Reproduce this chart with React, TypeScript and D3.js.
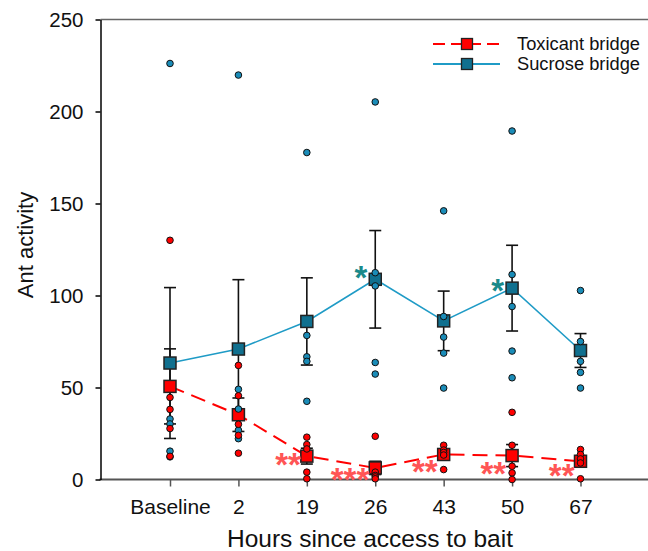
import React, { useEffect, useRef } from 'react';
import * as d3 from 'd3';

const categories = ['Baseline', '2', '19', '26', '43', '50', '67'];

const toxicantMean = [50.6, 35.2, 12.7, 6.3, 13.6, 13.0, 9.9];
const toxicantSE = [20.4, 9.1, 4.3, 3.6, 3.0, 6.0, 3.0];
const sucroseMean = [63.3, 70.9, 85.9, 108.8, 86.2, 104.0, 70.1];
const sucroseSE = [41.0, 37.7, 23.7, 26.5, 16.2, 23.3, 9.2];

const toxicantPoints = [
  [130, 44.6, 38.1, 27.7, 12.6],
  [62, 45.5, 30, 24, 14.3],
  [23, 19, 16.6, 4, 0.4],
  [23.5, 4, 2.2, 1.4, 0.4],
  [18.6, 16, 14.7, 13.3, 5.4],
  [36.5, 18.6, 7.2, 3.6, 0],
  [16.3, 13.6, 11.2, 9, 0.4],
];
const sucrosePoints = [
  [226.1, 32.9, 30.2, 15.4, 12.3],
  [219.8, 49, 38.3, 26.8, 22.2],
  [177.7, 78.3, 66.7, 64.2, 42.5],
  [205.2, 112.4, 105.2, 63.6, 57.3],
  [146, 88.6, 77.4, 68.7, 49.7],
  [189.4, 111.4, 94, 69.8, 55.3],
  [102.7, 75, 64.2, 58.2, 49.7],
];

// significance marks: category, label, value where they sit, series
const starCats = ['19', '26', '43', '50', '67', '26', '50'];
const starLabels = ['**', '***', '**', '**', '**', '*', '*'];
const starValues = [12.5, 4.3, 8.4, 7.3, 6.2, 114, 107];
const starSeries = ['tox', 'tox', 'tox', 'tox', 'tox', 'suc', 'suc'];

const yTicks = [0, 50, 100, 150, 200, 250];

export default function App() {
  const svgRef = useRef<SVGSVGElement>(null);

  useEffect(() => {
    if (!svgRef.current) return;
    const svg = d3.select(svgRef.current);
    svg.selectAll('*').remove();

    const W = 648;
    const left = 100.5;
    const top = 19.5;
    const bottom = 479.5;
    const font = 'Liberation Sans, Arial, sans-serif';

    const x = d3.scalePoint<string>().domain(categories).range([170, 580.5]);
    const y = d3.scaleLinear().domain([0, 250]).range([bottom, top]);

    const redColor = '#ff0000';
    const blueLine = '#1f9bc6';
    const blueSquare = '#10708f';
    const blueDot = '#1a8cb8';
    const redStar = '#ff5555';
    const tealStar = '#1a8a8a';

    // frame
    svg.append('line')
      .attr('x1', left).attr('x2', W).attr('y1', top).attr('y2', top)
      .attr('stroke', '#666').attr('stroke-width', 1.5);
    svg.append('line')
      .attr('x1', left - 1).attr('x2', W).attr('y1', bottom).attr('y2', bottom)
      .attr('stroke', '#555').attr('stroke-width', 2);

    // y axis
    const yAxis = svg.append('g').attr('transform', `translate(${left},0)`)
      .call(d3.axisLeft(y).tickValues(yTicks).tickSize(5).tickPadding(12).tickSizeOuter(0));
    yAxis.select('.domain').attr('stroke', '#000').attr('stroke-width', 1.5);
    yAxis.selectAll('.tick line').attr('stroke', '#000').attr('stroke-width', 1.5);
    yAxis.selectAll('.tick text')
      .attr('font-family', font).attr('font-size', 20.5).attr('fill', '#111');

    // x axis
    const xAxis = svg.append('g').attr('transform', `translate(0,${bottom})`)
      .call(d3.axisBottom(x).tickSize(7).tickPadding(13).tickSizeOuter(0));
    xAxis.select('.domain').remove();
    xAxis.selectAll('.tick line').attr('stroke', '#555').attr('stroke-width', 1.5);
    xAxis.selectAll('.tick text')
      .attr('font-family', font).attr('font-size', 21).attr('fill', '#111');

    // titles
    svg.append('text')
      .attr('transform', `translate(33,245) rotate(-90)`)
      .attr('text-anchor', 'middle')
      .attr('font-family', font).attr('font-size', 22).attr('fill', '#111')
      .text('Ant activity');
    svg.append('text')
      .attr('x', 370).attr('y', 546.5)
      .attr('text-anchor', 'middle')
      .attr('font-family', font).attr('font-size', 24.5).attr('fill', '#111')
      .text('Hours since access to bait');

    const series = [
      { key: 'suc', mean: sucroseMean, se: sucroseSE, pts: sucrosePoints },
      { key: 'tox', mean: toxicantMean, se: toxicantSE, pts: toxicantPoints },
    ];

    // error bars
    const capW = 6;
    series.forEach(s => {
      const g = svg.append('g').attr('stroke', '#111').attr('stroke-width', 1.6);
      categories.forEach((c, i) => {
        const cx = x(c)!;
        const y1 = y(s.mean[i] + s.se[i]);
        const y2 = y(Math.max(0, s.mean[i] - s.se[i]));
        g.append('line').attr('x1', cx).attr('x2', cx).attr('y1', y1).attr('y2', y2);
        g.append('line').attr('x1', cx - capW).attr('x2', cx + capW).attr('y1', y1).attr('y2', y1);
        g.append('line').attr('x1', cx - capW).attr('x2', cx + capW).attr('y1', y2).attr('y2', y2);
      });
    });

    // lines
    const line = d3.line<number>()
      .x((d, i) => x(categories[i])!)
      .y(d => y(d));
    svg.append('path')
      .attr('d', line(sucroseMean))
      .attr('fill', 'none').attr('stroke', blueLine).attr('stroke-width', 1.6);
    svg.append('path')
      .attr('d', line(toxicantMean))
      .attr('fill', 'none').attr('stroke', redColor).attr('stroke-width', 2)
      .attr('stroke-dasharray', '15,8');

    // mean squares
    const sq = 12;
    series.forEach(s => {
      svg.append('g').selectAll('rect')
        .data(s.mean)
        .enter()
        .append('rect')
        .attr('x', (d, i) => x(categories[i])! - sq / 2)
        .attr('y', d => y(d) - sq / 2)
        .attr('width', sq)
        .attr('height', sq)
        .attr('fill', s.key === 'suc' ? blueSquare : redColor)
        .attr('stroke', '#222')
        .attr('stroke-width', 1.5);
    });

    // individual points
    series.forEach(s => {
      const flat = s.pts.flatMap((arr, i) => arr.map(v => ({ c: categories[i], v })));
      svg.append('g').selectAll('circle')
        .data(flat)
        .enter()
        .append('circle')
        .attr('cx', d => x(d.c)!)
        .attr('cy', d => y(d.v))
        .attr('r', 3.3)
        .attr('fill', s.key === 'suc' ? blueDot : redColor)
        .attr('stroke', '#111')
        .attr('stroke-width', 1);
    });

    // significance stars
    svg.append('g').selectAll('text')
      .data(starLabels)
      .enter()
      .append('text')
      .attr('x', (d, i) => x(starCats[i])! - (starSeries[i] === 'suc' ? 8 : 6))
      .attr('y', (d, i) => y(starValues[i]) + 19)
      .attr('text-anchor', 'end')
      .attr('font-family', font)
      .attr('font-size', 33)
      .attr('font-weight', 'bold')
      .attr('fill', (d, i) => (starSeries[i] === 'suc' ? tealStar : redStar))
      .text(d => d);

    // legend
    const legend = svg.append('g');
    const items = [
      { label: 'Toxicant bridge', color: redColor, fill: redColor, dash: '12,6', yy: 44 },
      { label: 'Sucrose bridge', color: blueLine, fill: blueSquare, dash: null, yy: 64 },
    ];
    items.forEach(it => {
      legend.append('line')
        .attr('x1', 433).attr('x2', 500).attr('y1', it.yy).attr('y2', it.yy)
        .attr('stroke', it.color).attr('stroke-width', 1.8)
        .attr('stroke-dasharray', it.dash);
      legend.append('rect')
        .attr('x', 467 - 5.5).attr('y', it.yy - 5.5)
        .attr('width', 11).attr('height', 11)
        .attr('fill', it.fill).attr('stroke', '#222').attr('stroke-width', 1.3);
      legend.append('text')
        .attr('x', 517).attr('y', it.yy).attr('dy', '0.35em')
        .attr('font-family', font).attr('font-size', 18.3).attr('fill', '#111')
        .text(it.label);
    });
  }, []);

  return (
    <svg
      ref={svgRef}
      width={648}
      height={551}
      style={{ position: 'absolute', left: 0, top: 0, background: '#fff' }}
    />
  );
}
